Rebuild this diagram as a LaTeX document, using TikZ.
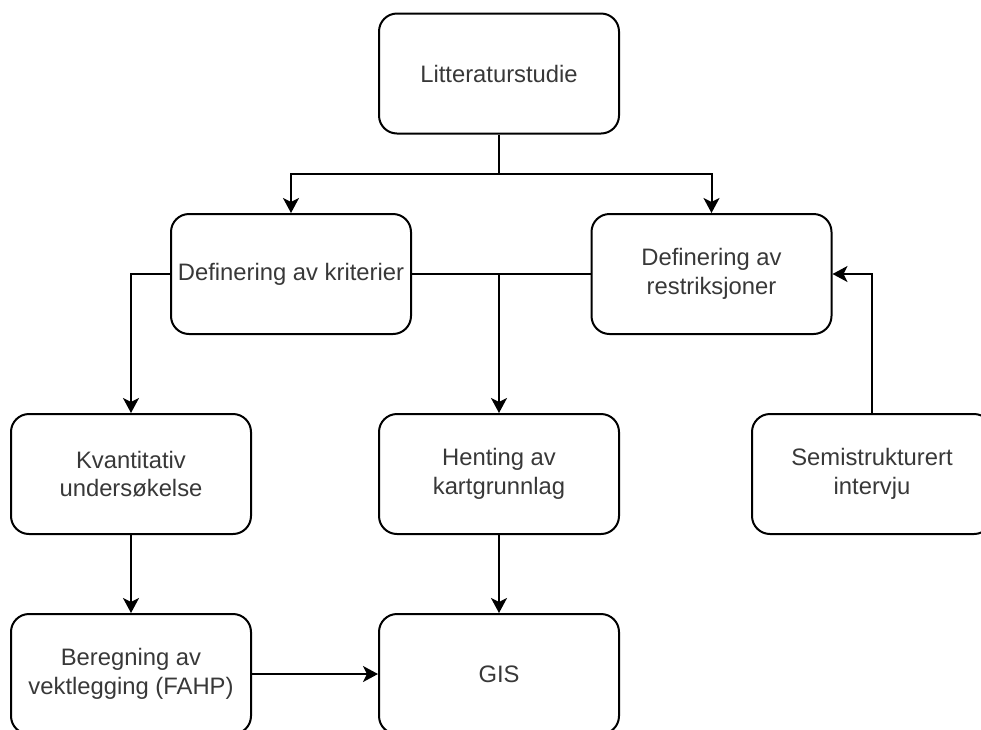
\documentclass[tikz,border=0pt]{standalone}
\usepackage{fontspec}
\setmainfont{Liberation Sans}
\usetikzlibrary{arrows.meta}
\begin{document}
\begin{tikzpicture}[x=1pt,y=-1pt,
  box/.style={draw=black, line width=2pt, rounded corners=18pt, minimum width=240pt, minimum height=120pt,
    inner sep=0pt, align=center, text=black!78, font=\fontsize{23.8}{28.5}\selectfont},
  arr/.style={draw=black, line width=2pt, -{Stealth[length=15pt,width=16pt,inset=4pt]}},
  ln/.style={draw=black, line width=2pt}]
\useasboundingbox (0,0) rectangle (981,729);
\clip (0,0) rectangle (981,729);
\node[box] (lit) at (499,73.5) {Litteraturstudie};
\node[box] (krit) at (291,274) {Definering av kriterier};
\node[box] (restr) at (711.5,274) {Definering av\\restriksjoner};
\node[box] (kvant) at (131,474) {Kvantitativ\\undersøkelse};
\node[box] (hent) at (499,474) {Henting av\\kartgrunnlag};
\node[box] (semi) at (872,474) {Semistrukturert\\intervju};
\node[box] (ber) at (131,674) {Beregning av\\vektlegging (FAHP)};
\node[box] (gis) at (499,674) {GIS};
\coordinate (split) at (499,173.5);
\draw[ln] (lit.south) -- (split);
\draw[arr] (split) -| (krit.north);
\draw[arr] (split) -| (restr.north);
\draw[arr] (krit.west) -| (kvant.north);
\draw[ln] (krit.east) -- (restr.west);
\draw[arr] (krit.east) -| (hent.north);
\draw[arr] (semi.north) |- (restr.east);
\draw[arr] (kvant.south) -- (ber.north);
\draw[arr] (hent.south) -- (gis.north);
\draw[arr] (ber.east) -- (gis.west);
\end{tikzpicture}
\end{document}
